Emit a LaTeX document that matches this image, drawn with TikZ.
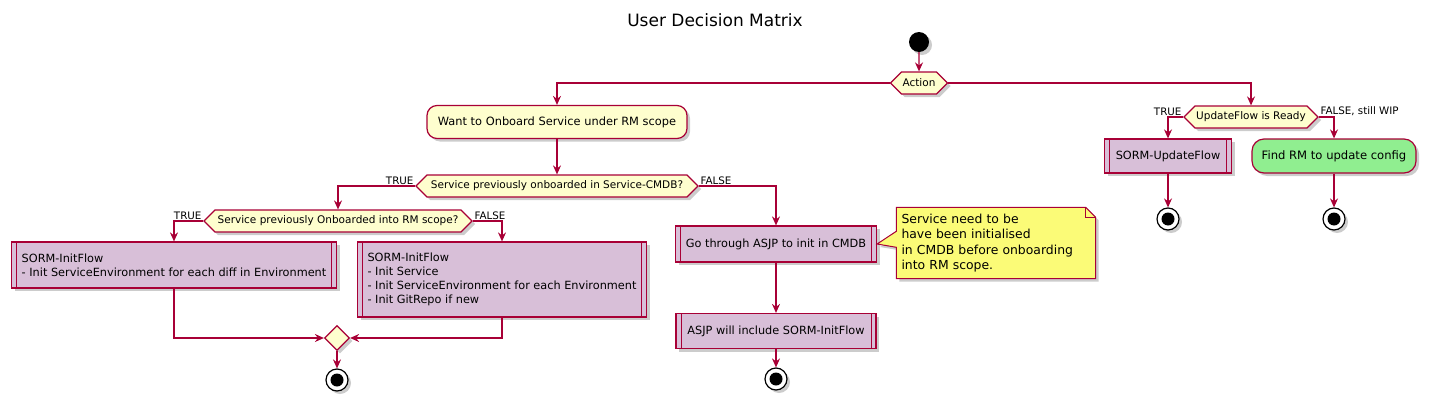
\documentclass[tikz,border=0pt]{standalone}
\usepackage{fontspec}
\setmainfont{DejaVu Sans}
\usetikzlibrary{shapes.symbols,shapes.geometric,shadows,arrows.meta}
\definecolor{pumlred}{RGB}{168,0,54}
\definecolor{actfill}{RGB}{254,254,206}
\definecolor{subfill}{RGB}{216,191,216}
\definecolor{greenfill}{RGB}{144,238,144}
\definecolor{notefill}{RGB}{251,251,119}
\tikzset{
  shad/.style={drop shadow={shadow xshift=3pt,shadow yshift=-3pt,fill=black,opacity=0.2}},
  actbox/.style={draw=pumlred,line width=1.2pt,fill=actfill,rounded corners=10pt,shad,
    font=\fontsize{11.4}{14}\selectfont,inner sep=0pt},
  subbox/.style={draw=pumlred,line width=1.2pt,fill=subfill,shad,inner sep=0pt,
    font=\fontsize{11.3}{14}\selectfont,
    path picture={
      \draw[pumlred,line width=1pt] ([xshift=5pt]path picture bounding box.north west) -- ([xshift=5pt]path picture bounding box.south west);
      \draw[pumlred,line width=1pt] ([xshift=-5pt]path picture bounding box.north east) -- ([xshift=-5pt]path picture bounding box.south east);}},
  decbox/.style={draw=pumlred,line width=1.2pt,fill=actfill,shad,shape=signal,
    signal to=east and west,signal pointer angle=90,inner sep=0pt,minimum height=22pt,
    font=\fontsize{10.5}{12}\selectfont},
  startc/.style={circle,fill=black,minimum size=20pt,inner sep=0pt,shad},
  stopc/.style={circle,draw=black,line width=1.2pt,fill=white,minimum size=22pt,inner sep=0pt,shad,
    path picture={\fill[black] (path picture bounding box.center) circle (6.5pt);}},
  mergec/.style={diamond,draw=pumlred,line width=1.2pt,fill=actfill,shad,aspect=1,minimum size=25pt,inner sep=0pt},
  arr/.style={draw=pumlred,line width=1.3pt,-{Stealth[length=9pt,width=8pt,inset=3pt]}},
  lbl/.style={font=\fontsize{10.3}{12}\selectfont,inner sep=1.5pt},
  notetext/.style={minimum width=199pt,minimum height=71pt,inner sep=0pt,align=left,text width=189pt,
    font=\fontsize{12.4}{15.2}\selectfont},
}
\begin{document}
\begin{tikzpicture}[x=1pt,y=-1pt]
\useasboundingbox (0,0) rectangle (1432,407);
\node[font=\fontsize{17}{20}\selectfont] (title) at (715,20) {User Decision Matrix};
\node[startc] (start) at (919,42) {};
\node[decbox,minimum width=57pt] (act) at (919,83) {Action};
\node[actbox,minimum width=260pt,minimum height=33pt] (want) at (557,122) {Want to Onboard Service under RM scope};
\node[decbox,minimum width=282pt] (d1) at (557,186) {Service previously onboarded in Service-CMDB?};
\node[decbox,minimum width=268pt] (d2) at (338,221) {Service previously Onboarded into RM scope?};
\node[subbox,minimum width=325pt,minimum height=46pt,align=left] (boxA) at (174,265)
  {SORM-InitFlow\\- Init ServiceEnvironment for each diff in Environment};
\node[subbox,minimum width=289pt,minimum height=75pt,align=left] (boxB) at (502,279.5)
  {SORM-InitFlow\\- Init Service\\- Init ServiceEnvironment for each Environment\\- Init GitRepo if new};
\node[mergec] (merge) at (337,338) {};
\node[stopc] (stop1) at (337,380) {};
\node[subbox,minimum width=201pt,minimum height=36pt] (boxC) at (776,244) {Go through ASJP to init in CMDB};
\node[subbox,minimum width=200pt,minimum height=35pt] (boxD) at (776,331) {ASJP will include SORM-InitFlow};
\node[stopc] (stop2) at (776,379) {};
\node[minimum width=199pt,minimum height=71pt,inner sep=0pt] (note) at (996,243) {};
\filldraw[draw=pumlred,line width=1pt,fill=notefill,shad]
  (note.north west) -- ([xshift=-10pt]note.north east) -- ([yshift=-10pt]note.north east)
  -- (note.south east) -- (note.south west) -- ([yshift=-40pt]note.north west)
  -- (boxC.east) -- ([yshift=-24pt]note.north west) -- cycle;
\draw[pumlred,line width=1pt] ([xshift=-10pt]note.north east) -- ++(0,10) -- ++(10,0);
\node[notetext] (notetxt) at (note.center)
  {Service need to be\\have been initialised\\in CMDB before onboarding\\into RM scope.};
\node[decbox,minimum width=134pt] (d3) at (1251,117) {UpdateFlow is Ready};
\node[subbox,minimum width=127pt,minimum height=34pt] (boxE) at (1168,156) {SORM-UpdateFlow};
\node[actbox,fill=greenfill,rounded corners=12pt,minimum width=164pt,minimum height=34pt,
  font=\fontsize{11.6}{14}\selectfont] (boxF) at (1334,156) {Find RM to update config};
\node[stopc] (stop3) at (1168,219) {};
\node[stopc] (stop4) at (1334,219) {};
% connectors
\draw[arr] (start) -- (act);
\draw[arr] (act.west) -| (want.north);
\draw[arr] (act.east) -| (d3.north);
\draw[arr] (want.south) -- (d1.north);
\draw[arr] (d1.west) -| (d2.north);
\node[lbl,anchor=south east] at (d1.west) {TRUE};
\draw[arr] (d1.east) -| (boxC.north);
\node[lbl,anchor=south west] at (d1.east) {FALSE};
\draw[arr] (d2.west) -| (boxA.north);
\node[lbl,anchor=south east] at (d2.west) {TRUE};
\draw[arr] (d2.east) -| (boxB.north);
\node[lbl,anchor=south west] at (d2.east) {FALSE};
\draw[arr] (boxA.south) |- (merge.west);
\draw[arr] (boxB.south) |- (merge.east);
\draw[arr] (merge.south) -- (stop1.north);
\draw[arr] (boxC.south) -- (boxD.north);
\draw[arr] (boxD.south) -- (stop2.north);
\draw[arr] (d3.west) -| (boxE.north);
\node[lbl,anchor=south east] at (d3.west) {TRUE};
\draw[arr] (d3.east) -| (boxF.north);
\node[lbl,anchor=south west] at (d3.east) {FALSE, still WIP};
\draw[arr] (boxE.south) -- (stop3.north);
\draw[arr] (boxF.south) -- (stop4.north);
\end{tikzpicture}
\end{document}
